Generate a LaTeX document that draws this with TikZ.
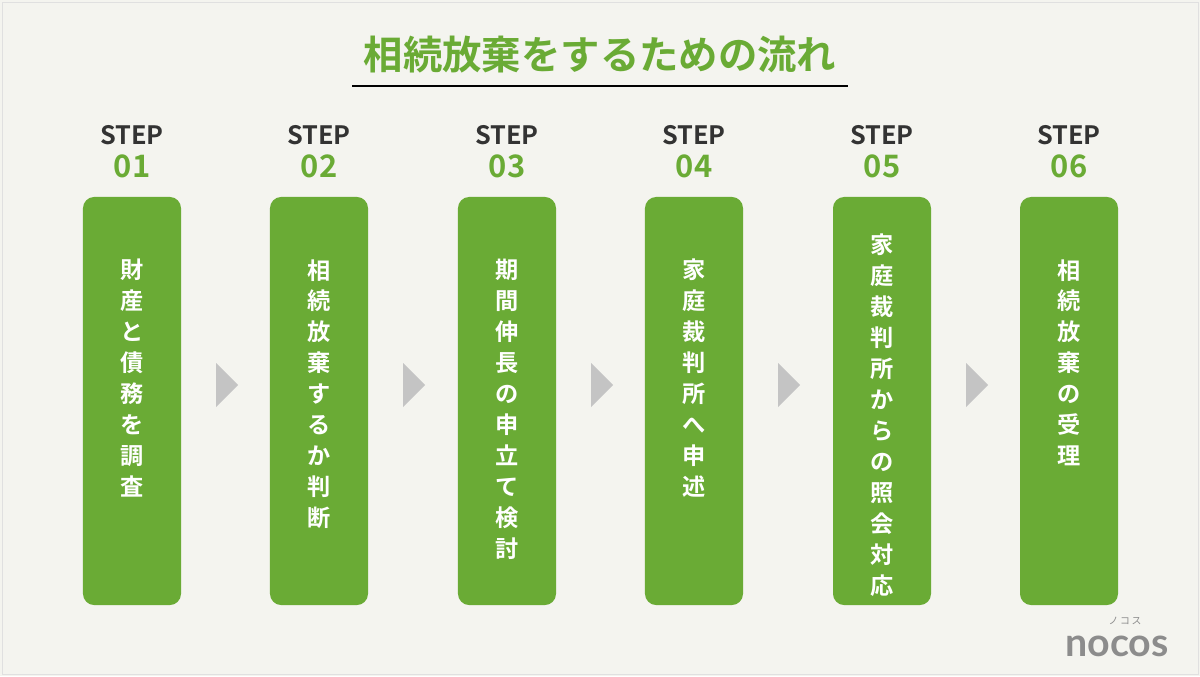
\documentclass[tikz,border=0pt]{standalone}
\usepackage{fontspec}
\setmainfont{Noto Sans CJK JP}[BoldFont={* Bold}]
\newfontfamily\logofont{Lato}
\usetikzlibrary{positioning}
\definecolor{stepgreen}{HTML}{6AAB35}
\definecolor{bggray}{HTML}{F4F4EF}
\definecolor{arrowgray}{HTML}{C4C4C4}
\definecolor{darktext}{HTML}{333333}
\tikzset{
  stepbox/.style={rectangle, fill=stepgreen, rounded corners=8pt, minimum width=2.45cm, minimum height=10.2cm, inner sep=0pt},
  steptext/.style={text=white, font=\bfseries\fontsize{16.5}{22}\selectfont, align=center, anchor=north, inner sep=0pt},
  steplabel/.style={text=darktext, font=\bfseries\fontsize{18}{20}\selectfont, inner sep=0pt},
  stepnum/.style={text=stepgreen, font=\bfseries\fontsize{22}{24}\selectfont, inner sep=0pt},
  next/.style={fill=arrowgray}
}
\begin{document}
\begin{tikzpicture}[x=0.025cm, y=-0.025cm]
  \useasboundingbox (0,0) rectangle (1200,676);
  \fill[bggray] (0,0) rectangle (1200,676);
  \draw[black!12, line width=0.6pt] (2,2) rectangle (1198,674);
  % title
  \node[text=stepgreen, font=\bfseries\fontsize{28}{30}\selectfont, inner sep=0pt] (title) at (600,55) {相続放棄をするための流れ};
  \draw[black, line width=1.5pt] (352,86) -- (848,86);
  % steps
  \foreach \i/\x/\ty/\txt in {
      1/132/259/{財\\産\\と\\債\\務\\を\\調\\査},
      2/319/259/{相\\続\\放\\棄\\す\\る\\か\\判\\断},
      3/507/259/{期\\間\\伸\\長\\の\\申\\立\\て\\検\\討},
      4/694/259/{家\\庭\\裁\\判\\所\\へ\\申\\述},
      5/882/234/{家\\庭\\裁\\判\\所\\か\\ら\\の\\照\\会\\対\\応},
      6/1069/259/{相\\続\\放\\棄\\の\\受\\理}} {
    \node[steplabel] (l\i) at (\x,135) {STEP};
    \node[stepnum] (n\i) at (\x,166) {0\i};
    \node[stepbox] (s\i) at (\x,401) {};
    \node[steptext] (t\i) at (\x,\ty) {\txt};
  }
  % arrows
  \foreach \x in {226,413,601,788,976} {
    \fill[next] (\x-10,363) -- (\x+12,385) -- (\x-10,407) -- cycle;
  }
  % logo
  \node[text=black!45, font=\logofont\bfseries\fontsize{28}{30}\selectfont, inner sep=0pt] (logo) at (1117,646) {nocos};
  \node[text=black!45, font=\fontsize{7}{8}\selectfont, inner sep=0pt, above=7pt of logo.north, xshift=0.2cm] (kana) {ノ\,コ\,ス};
\end{tikzpicture}
\end{document}
